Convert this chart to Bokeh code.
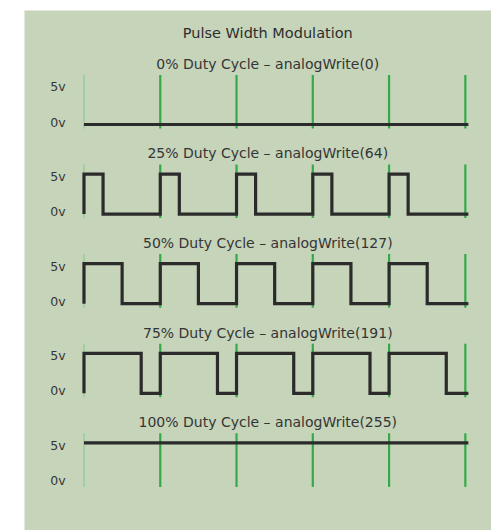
from bokeh.plotting import figure
from bokeh.models import Range1d, ColumnDataSource
from bokeh.core.properties import value
from bokeh.embed import file_html
from bokeh.resources import INLINE

# ---- data ----
main_title = "Pulse Width Modulation"
panel_titles = [
    "0% Duty Cycle – analogWrite(0)",
    "25% Duty Cycle – analogWrite(64)",
    "50% Duty Cycle – analogWrite(127)",
    "75% Duty Cycle – analogWrite(191)",
    "100% Duty Cycle – analogWrite(255)",
]
duty_cycles = [0.0, 0.25, 0.5, 0.75, 1.0]
n_cycles = 5
high_volts = 5
low_volts = 0
level_labels = ["5v", "0v"]
period_marks = [0, 1, 2, 3, 4, 5]

# ---- layout constants (style) ----
panel_gap = 11.2
bg = "#c6d4ba"
ink = "#2b2b2b"
txt = "#353535"
FONT = value("DejaVu Sans")
wave_end = n_cycles + 0.04

p = figure(width=491, height=530, output_backend="svg", toolbar_location=None,
           x_range=Range1d(-0.780, 5.343), y_range=Range1d(-50.75, 14.25),
           min_border_left=24, min_border_top=10, min_border_right=0, min_border_bottom=0)
p.background_fill_color = bg
p.border_fill_color = "white"
p.outline_line_color = None
p.xaxis.visible = False
p.yaxis.visible = False
p.xgrid.visible = False
p.ygrid.visible = False

for i, (duty, title) in enumerate(zip(duty_cycles, panel_titles)):
    base = -i * panel_gap
    # period markers
    xs = period_marks
    widths = [1] + [2.2] * (len(xs) - 1)
    colors = ["#7ccc86"] + ["#35a94a"] * (len(xs) - 1)
    src = ColumnDataSource(dict(x0=xs, x1=xs, y0=[base - 0.5] * len(xs),
                                y1=[base + 6.2] * len(xs), w=widths, c=colors))
    p.segment(x0="x0", y0="y0", x1="x1", y1="y1", line_width="w", line_color="c", source=src)

    # waveform
    wx, wy = [], []
    if duty <= 0:
        wx, wy = [0, wave_end], [low_volts, low_volts]
    elif duty >= 1:
        wx, wy = [0, wave_end], [high_volts, high_volts]
    else:
        wx.append(0); wy.append(low_volts)
        for k in range(n_cycles):
            wx += [k, k, k + duty, k + duty]
            wy += [low_volts, high_volts, high_volts, low_volts]
        wx.append(wave_end); wy.append(low_volts)
    p.line(wx, [base + y for y in wy], line_color=ink, line_width=3.2,
           line_join="miter")

    # level labels
    p.text(x=[-0.24, -0.24], y=[base + high_volts - 0.3, base + low_volts + 0.3],
           text=level_labels, text_font=FONT, text_font_size="12.5px",
           text_color=txt, text_align="right", text_baseline="middle")
    # panel title
    p.text(x=[2.41], y=[base + 7.6], text=[title], text_font=FONT,
           text_font_size="14px", text_color=txt, text_align="center",
           text_baseline="middle")

p.text(x=[2.41], y=[11.4], text=[main_title], text_font=FONT, text_font_size="14.5px",
       text_color="#2e2e2e", text_align="center", text_baseline="middle")

open("out.html", "w").write(file_html(p, INLINE))
